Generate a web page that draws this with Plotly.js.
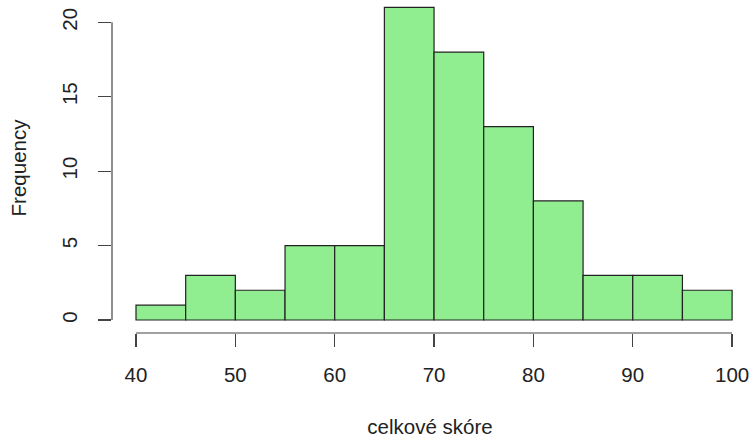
<!DOCTYPE html>
<html>
<head>
<meta charset="utf-8">
<script src="https://cdn.plot.ly/plotly-3.0.1.min.js"></script>
<style>html,body{margin:0;padding:0;background:#fff;}#chart{width:752px;height:438px;}</style>
</head>
<body>
<div id="chart"></div>
<script>
const binStarts = [40,45,50,55,60,65,70,75,80,85,90,95];
const binWidth = 5;
const counts = [1,3,2,5,5,21,18,13,8,3,3,2];
const xTicks = [40,50,60,70,80,90,100];
const yTicks = [0,5,10,15,20];
const xTitle = "celkové skóre";
const yTitle = "Frequency";

const centers = binStarts.map(s => s + binWidth/2);
const font = {family: "Liberation Sans, Arial, sans-serif", size: 20.5, color: "#222"};
const axisColor = "#444";

const trace = {
  type: "bar",
  x: centers,
  y: counts,
  width: binStarts.map(() => binWidth),
  marker: {color: "#90EE90", line: {color: "#222", width: 1.2}},
  hoverinfo: "x+y"
};

const layout = {
  width: 752, height: 438,
  margin: {l: 112, r: 4, t: 2.93, b: 104.7},
  paper_bgcolor: "#fff", plot_bgcolor: "#fff",
  showlegend: false,
  font: font,
  bargap: 0,
  xaxis: {
    range: [37.584, 101.6],
    tickvals: xTicks, ticktext: xTicks.map(String),
    ticks: "outside", ticklen: 13, tickwidth: 1.2, tickcolor: axisColor,
    showline: false, showgrid: false, zeroline: false,
    tickfont: font,
    ticklabelstandoff: 10,
    title: {text: xTitle, font: font, standoff: 37},
    automargin: false
  },
  yaxis: {
    range: [-0.872, 21.3],
    tickvals: yTicks, ticktext: yTicks.map(String),
    ticks: "outside", ticklen: 13, tickwidth: 1.2, tickcolor: axisColor,
    tickangle: -90,
    showline: false, showgrid: false, zeroline: false,
    tickfont: font,
    ticklabelstandoff: 13,
    title: {text: yTitle, font: font, standoff: 25},
    automargin: false
  },
  shapes: [
    {type: "line", xref: "x", yref: "paper", x0: xTicks[0], x1: xTicks[xTicks.length-1], y0: 0, y1: 0,
     line: {color: axisColor, width: 1.2}},
    {type: "line", xref: "paper", yref: "y", x0: 0, x1: 0, y0: yTicks[0], y1: yTicks[yTicks.length-1],
     line: {color: axisColor, width: 1.2}}
  ]
};

Plotly.newPlot("chart", [trace], layout, {displayModeBar: false, staticPlot: true});
</script>
</body>
</html>
